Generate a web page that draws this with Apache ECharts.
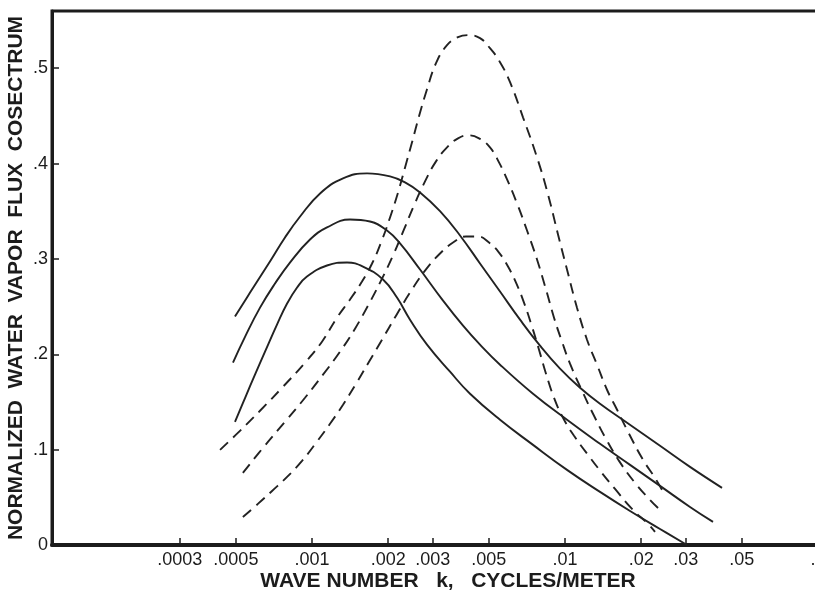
<!DOCTYPE html>
<html>
<head>
<meta charset="utf-8">
<script src="https://cdn.jsdelivr.net/npm/echarts@6/dist/echarts.min.js"></script>
<style>
html,body{margin:0;padding:0;background:#fff;}
#chart{width:815px;height:596px;}
</style>
</head>
<body>
<div id="chart"></div>
<script>
// ---- data (wave number k in cycles/meter, normalized cospectrum) ----
const kSolidTop = [0.000496, 0.000569, 0.000682, 0.000782, 0.000897, 0.001076, 0.001326, 0.00165, 0.002034, 0.002332, 0.002673, 0.003206, 0.003846, 0.004613, 0.005535, 0.00664, 0.007965, 0.009555, 0.011463, 0.013752, 0.017589, 0.023742, 0.031195, 0.04175];
const vSolidTop = [0.2395, 0.2647, 0.2973, 0.3225, 0.3445, 0.3687, 0.3845, 0.3897, 0.3866, 0.3803, 0.3697, 0.3501, 0.3246, 0.2952, 0.2658, 0.2363, 0.2090, 0.1849, 0.1649, 0.1481, 0.1282, 0.1040, 0.0819, 0.0599];

const kSolidMid = [0.000487, 0.000544, 0.000623, 0.000714, 0.000818, 0.000982, 0.001146, 0.001413, 0.001695, 0.001979, 0.002228, 0.002673, 0.003295, 0.003953, 0.004613, 0.005535, 0.007474, 0.010183, 0.013752, 0.018074, 0.023742, 0.031195, 0.038459];
const vSolidMid = [0.1912, 0.2185, 0.2489, 0.2742, 0.2962, 0.3204, 0.3330, 0.3414, 0.3393, 0.3298, 0.3162, 0.2889, 0.2563, 0.2300, 0.2101, 0.1891, 0.1586, 0.1313, 0.1061, 0.0840, 0.0620, 0.0399, 0.0242];

const kSolidLow = [0.000496, 0.000544, 0.000595, 0.000652, 0.000727, 0.000797, 0.000873, 0.000955, 0.001146, 0.001375, 0.00159, 0.001908, 0.002167, 0.00244, 0.002848, 0.003512, 0.004213, 0.005535, 0.007474, 0.010183, 0.013752, 0.018074, 0.023742, 0.030359];
const vSolidLow = [0.1292, 0.1544, 0.1786, 0.2027, 0.2311, 0.2532, 0.2700, 0.2815, 0.2931, 0.2962, 0.2920, 0.2784, 0.2595, 0.2363, 0.2101, 0.1817, 0.1586, 0.1313, 0.1050, 0.0788, 0.0557, 0.0357, 0.0168, 0.0];

const kDashTop = [0.000433, 0.000519, 0.000623, 0.000768, 0.000938, 0.001095, 0.001255, 0.001413, 0.001576, 0.001727, 0.001874, 0.002034, 0.002188, 0.002332, 0.002485, 0.002648, 0.002848, 0.003091, 0.003417, 0.003777, 0.004137, 0.004613, 0.005052, 0.005535, 0.006064, 0.006823, 0.007751, 0.008567, 0.009383, 0.010183, 0.011153, 0.012218, 0.013383, 0.014655, 0.016062, 0.017746, 0.020347, 0.022686, 0.024177];
const vDashTop = [0.0998, 0.1197, 0.1408, 0.1660, 0.1912, 0.2132, 0.2384, 0.2574, 0.2763, 0.2952, 0.3172, 0.3435, 0.3697, 0.3960, 0.4223, 0.4496, 0.4779, 0.5053, 0.5242, 0.5326, 0.5347, 0.5315, 0.5210, 0.5063, 0.4853, 0.4485, 0.4065, 0.3676, 0.3256, 0.2889, 0.2489, 0.2153, 0.1891, 0.1628, 0.1418, 0.1187, 0.0893, 0.0704, 0.0578];

const kDashMid = [0.000533, 0.00064, 0.000782, 0.000938, 0.001105, 0.00129, 0.001479, 0.001665, 0.001874, 0.00209, 0.00231, 0.00253, 0.002797, 0.003091, 0.003417, 0.003777, 0.004137, 0.004572, 0.005052, 0.005484, 0.005901, 0.006462, 0.007077, 0.007751, 0.008412, 0.009048, 0.00973, 0.010466, 0.011674, 0.013021, 0.014524, 0.016353, 0.018919, 0.021677, 0.023742];
const vDashMid = [0.0756, 0.1019, 0.1292, 0.1544, 0.1786, 0.2027, 0.2269, 0.2511, 0.2773, 0.3036, 0.3309, 0.3561, 0.3813, 0.4023, 0.4170, 0.4265, 0.4296, 0.4265, 0.4170, 0.4013, 0.3834, 0.3582, 0.3298, 0.2994, 0.2679, 0.2384, 0.2132, 0.1901, 0.1618, 0.1355, 0.1113, 0.0882, 0.0651, 0.0473, 0.0368];

const kDashLow = [0.000533, 0.000611, 0.000695, 0.000797, 0.000913, 0.001037, 0.001178, 0.001326, 0.001492, 0.00168, 0.001891, 0.002148, 0.00244, 0.002797, 0.003206, 0.003609, 0.004061, 0.00453, 0.005008, 0.005484, 0.005952, 0.006402, 0.006884, 0.007405, 0.007893, 0.008412, 0.009048, 0.009819, 0.010856, 0.012331, 0.013879, 0.015765, 0.018404, 0.021287, 0.022686];
const vDashLow = [0.0294, 0.0431, 0.0567, 0.0714, 0.0882, 0.1071, 0.1271, 0.1471, 0.1691, 0.1922, 0.2153, 0.2405, 0.2647, 0.2878, 0.3057, 0.3172, 0.3235, 0.3235, 0.3172, 0.3067, 0.2920, 0.2752, 0.2542, 0.2290, 0.2048, 0.1796, 0.1544, 0.1334, 0.1145, 0.0945, 0.0767, 0.0588, 0.0378, 0.0221, 0.0137];

const xTickValues = [0.0003, 0.0005, 0.001, 0.002, 0.003, 0.005, 0.01, 0.02, 0.03, 0.05, 0.1];
const xTickLabels = ['.0003', '.0005', '.001', '.002', '.003', '.005', '.01', '.02', '.03', '.05', '.1'];
const yTickLabels = ['0', '.1', '.2', '.3', '.4', '.5'];
const xRange = [0.0000938, 0.1];
const yRange = [0, 0.56];

const xAxisTitle = 'WAVE NUMBER   k,   CYCLES/METER';
const yAxisTitle = 'NORMALIZED  WATER  VAPOR  FLUX  COSECTRUM';

// ---- chart ----
const ink = '#1c1c1c';
const pair = (ks, vs) => ks.map((k, i) => [k, vs[i]]);
const logTicks = xTickValues.map(v => Math.log10(v));

function lineSeries(ks, vs, dashed) {
  return {
    type: 'line',
    xAxisIndex: 0,
    data: pair(ks, vs),
    smooth: 0.45,
    symbol: 'none',
    silent: true,
    lineStyle: { color: '#222222', width: 1.9, type: dashed ? [11, 7] : 'solid' }
  };
}

const chart = echarts.init(document.getElementById('chart'), null, { renderer: 'canvas' });
chart.setOption({
  animation: false,
  backgroundColor: '#ffffff',
  grid: { left: 52, right: -3, top: 11, bottom: 51, outerBoundsMode: 'none', containLabel: false,
          show: true, borderColor: ink, borderWidth: 3, backgroundColor: 'transparent' },
  xAxis: [
    {
      type: 'log', logBase: 10, min: xRange[0], max: xRange[1], position: 'bottom',
      axisLine: { show: true, lineStyle: { color: ink, width: 4 } },
      axisTick: { show: false }, axisLabel: { show: false }, splitLine: { show: false },
      name: xAxisTitle, nameLocation: 'middle', nameGap: 26, nameMoveOverlap: false,
      nameTextStyle: { fontFamily: 'Liberation Sans', fontWeight: 'bold', fontSize: 21, color: ink, padding: [0, 0, 0, 26] }
    },
    {
      type: 'value', min: Math.log10(xRange[0]), max: Math.log10(xRange[1]), position: 'bottom',
      axisLine: { show: false }, splitLine: { show: false },
      axisTick: { show: true, inside: true, length: 7, customValues: logTicks, lineStyle: { color: ink, width: 1.5 } },
      axisLabel: {
        show: true, customValues: logTicks, margin: 6, hideOverlap: false,
        fontFamily: 'Liberation Sans', fontSize: 18, color: ink,
        formatter: v => { const i = logTicks.findIndex(t => Math.abs(t - v) < 1e-6); return i >= 0 ? xTickLabels[i] : ''; }
      }
    }
  ],
  yAxis: {
    type: 'value', min: yRange[0], max: yRange[1], interval: 0.1,
    axisLine: { show: true, lineStyle: { color: ink, width: 3 } },
    axisTick: { show: true, inside: true, length: 7, lineStyle: { color: ink, width: 1.5 } },
    splitLine: { show: false },
    axisLabel: {
      margin: 4, fontFamily: 'Liberation Sans', fontSize: 18, color: ink,
      formatter: v => { const i = Math.round(v * 10); return yTickLabels[i] !== undefined ? yTickLabels[i] : ''; }
    },
    name: yAxisTitle, nameLocation: 'middle', nameGap: 25, nameRotate: 90, nameMoveOverlap: false,
    nameTextStyle: { fontFamily: 'Liberation Sans', fontWeight: 'bold', fontSize: 21, color: ink }
  },
  series: [
    lineSeries(kSolidTop, vSolidTop, false),
    lineSeries(kSolidMid, vSolidMid, false),
    lineSeries(kSolidLow, vSolidLow, false),
    lineSeries(kDashTop, vDashTop, true),
    lineSeries(kDashMid, vDashMid, true),
    lineSeries(kDashLow, vDashLow, true)
  ]
});
</script>
</body>
</html>
